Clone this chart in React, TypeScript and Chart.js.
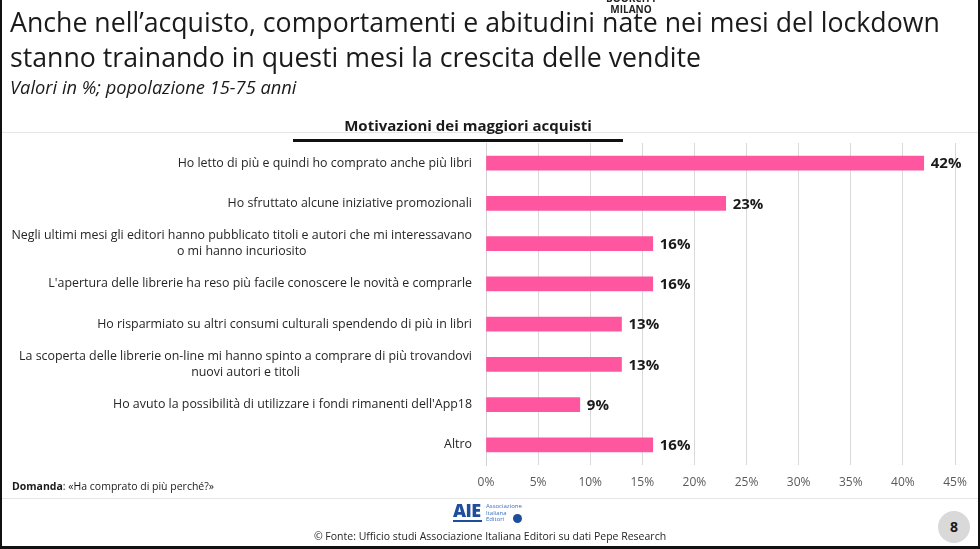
import React, { useEffect, useRef } from "react";
import { Chart, registerables } from "chart.js";

Chart.register(...registerables);

const categories: string[][] = [
  ["Ho letto di più e quindi ho comprato anche più libri"],
  ["Ho sfruttato alcune iniziative promozionali"],
  ["Negli ultimi mesi gli editori hanno pubblicato titoli e autori che mi interessavano", "o mi hanno incuriosito"],
  ["L'apertura delle librerie ha reso più facile conoscere le novità e comprarle"],
  ["Ho risparmiato su altri consumi culturali spendendo di più in libri"],
  ["La scoperta delle librerie on-line mi hanno spinto a comprare di più trovandovi", "nuovi autori e titoli"],
  ["Ho avuto la possibilità di utilizzare i fondi rimanenti dell'App18"],
  ["Altro"],
];
const values: number[] = [42, 23, 16, 16, 13, 13, 9, 16];
const xTicks: number[] = [0, 5, 10, 15, 20, 25, 30, 35, 40, 45];

const FONT = "'Open Sans', sans-serif";

const labelsPlugin = {
  id: "customLabels",
  afterDatasetsDraw(chart: any) {
    const ctx = chart.ctx as CanvasRenderingContext2D;
    const meta = chart.getDatasetMeta(0);
    const yScale = chart.scales.y;
    ctx.save();
    // value labels
    ctx.font = `bold 15px ${FONT}`;
    ctx.fillStyle = "#1a1a1a";
    ctx.textAlign = "left";
    ctx.textBaseline = "middle";
    meta.data.forEach((bar: any, i: number) => {
      ctx.fillText(values[i] + "%", bar.x + 7, bar.y + 1);
    });
    // category labels (block right aligned, lines centered)
    ctx.font = `12.4px ${FONT}`;
    ctx.fillStyle = "#262626";
    ctx.textAlign = "center";
    const right = chart.chartArea.left - 14;
    const lh = 16.5;
    categories.forEach((lines, i) => {
      const y = yScale.getPixelForValue(i);
      const maxW = Math.max(...lines.map((l) => ctx.measureText(l).width));
      const cx = right - maxW / 2;
      const y0 = y - ((lines.length - 1) * lh) / 2;
      lines.forEach((l, j) => ctx.fillText(l, cx, y0 + j * lh));
    });
    ctx.restore();
  },
};

function BarChart() {
  const ref = useRef<HTMLCanvasElement>(null);
  useEffect(() => {
    if (!ref.current) return;
    const chart = new Chart(ref.current, {
      type: "bar",
      data: {
        labels: categories.map((c) => c.join(" ")),
        datasets: [
          {
            data: values,
            backgroundColor: "#FF579F",
            borderWidth: 0,
            barThickness: 14,
          },
        ],
      },
      options: {
        indexAxis: "y",
        animation: false,
        responsive: false,
        maintainAspectRatio: false,
        devicePixelRatio: 1,
        layout: { padding: { top: 143, bottom: 54, left: 0, right: 25 } },
        plugins: { legend: { display: false }, tooltip: { enabled: false } },
        scales: {
          x: {
            min: 0,
            max: 45,
            afterBuildTicks: (scale: any) => {
              scale.ticks = xTicks.map((v) => ({ value: v }));
            },
            afterFit: (scale: any) => {
              scale.height = 30;
            },
            grid: { color: "#D9D9D9", lineWidth: 1, drawTicks: false },
            border: { display: false },
            ticks: {
              padding: 10,
              color: "#595959",
              font: { family: FONT, size: 12 },
              callback: (v: any) => v + "%",
            },
          },
          y: {
            afterFit: (scale: any) => {
              scale.width = 486;
            },
            grid: { display: false },
            border: { display: true, color: "#D0D0D0" },
            ticks: { display: false },
          },
        },
      },
      plugins: [labelsPlugin],
    });
    return () => chart.destroy();
  }, []);
  return (
    <canvas
      ref={ref}
      width={980}
      height={549}
      style={{ position: "absolute", left: 0, top: 0, width: 980, height: 549 }}
    />
  );
}

export default function App() {
  useEffect(() => {
    document.body.style.margin = "0";
  }, []);
  const abs = (s: React.CSSProperties): React.CSSProperties => ({ position: "absolute", whiteSpace: "nowrap", ...s });
  return (
    <div style={{ position: "relative", width: 980, height: 549, overflow: "hidden", background: "#fff", fontFamily: FONT, color: "#1a1a1a" }}>
      <BarChart />
      {/* frame */}
      <div style={abs({ left: 0, top: 0, width: 2, height: 549, background: "#111" })} />
      <div style={abs({ right: 0, top: 0, width: 2, height: 549, background: "#111" })} />
      <div style={abs({ left: 0, bottom: 0, width: 980, height: 3, background: "#111" })} />
      {/* faint lines */}
      <div style={abs({ left: 2, top: 132, width: 976, height: 1, background: "#E6E6E6" })} />
      <div style={abs({ left: 2, top: 498, width: 976, height: 1, background: "#E6E6E6" })} />
      {/* logo top */}
      <div style={abs({ left: 606, top: -7, width: 50, textAlign: "center", fontSize: 10, fontWeight: 700, lineHeight: "11px", color: "#222" })}>
        BOOKCITY<br />MILANO
      </div>
      {/* titles */}
      <div style={abs({ left: 10, top: 4, fontSize: 26.7, lineHeight: "35px", color: "#1a1a1a" })}>
        Anche nell’acquisto, comportamenti e abitudini nate nei mesi del lockdown
        <br />
        stanno trainando in questi mesi la crescita delle vendite
      </div>
      <div style={abs({ left: 10, top: 74, fontSize: 18.3, fontStyle: "italic", color: "#1a1a1a" })}>
        Valori in %; popolazione 15-75 anni
      </div>
      <div style={abs({ left: 303, width: 330, top: 115, textAlign: "center", fontSize: 15, fontWeight: 700, color: "#1a1a1a" })}>
        Motivazioni dei maggiori acquisti
      </div>
      <div style={abs({ left: 293, top: 139, width: 330, height: 3, background: "#111" })} />
      {/* question */}
      <div style={abs({ left: 12, top: 479, fontSize: 10.5, color: "#1a1a1a" })}>
        <b>Domanda</b>: «Ha comprato di più perché?»
      </div>
      {/* AIE logo */}
      <div style={abs({ left: 453, top: 500, fontSize: 18, fontWeight: 800, color: "#1F4E9C", lineHeight: "20px", letterSpacing: -0.5 })}>AIE</div>
      <div style={abs({ left: 453, top: 520, width: 29, height: 2, background: "#1F4E9C" })} />
      <div style={abs({ left: 486, top: 503, fontSize: 6, lineHeight: "6.5px", color: "#3A6FC0" })}>
        Associazione<br />Italiana<br />Editori
      </div>
      <div style={abs({ left: 513, top: 514, width: 9, height: 9, borderRadius: 5, background: "#1F4E9C" })} />
      {/* source */}
      <div style={abs({ left: 0, width: 980, top: 529, textAlign: "center", fontSize: 10.5, color: "#262626" })}>
        © Fonte: Ufficio studi Associazione Italiana Editori su dati Pepe Research
      </div>
      {/* page number */}
      <div style={abs({ left: 938, top: 511, width: 32, height: 32, borderRadius: 16, background: "#D9D9D9", textAlign: "center", lineHeight: "32px", fontSize: 14, fontWeight: 700 })}>8</div>
    </div>
  );
}
